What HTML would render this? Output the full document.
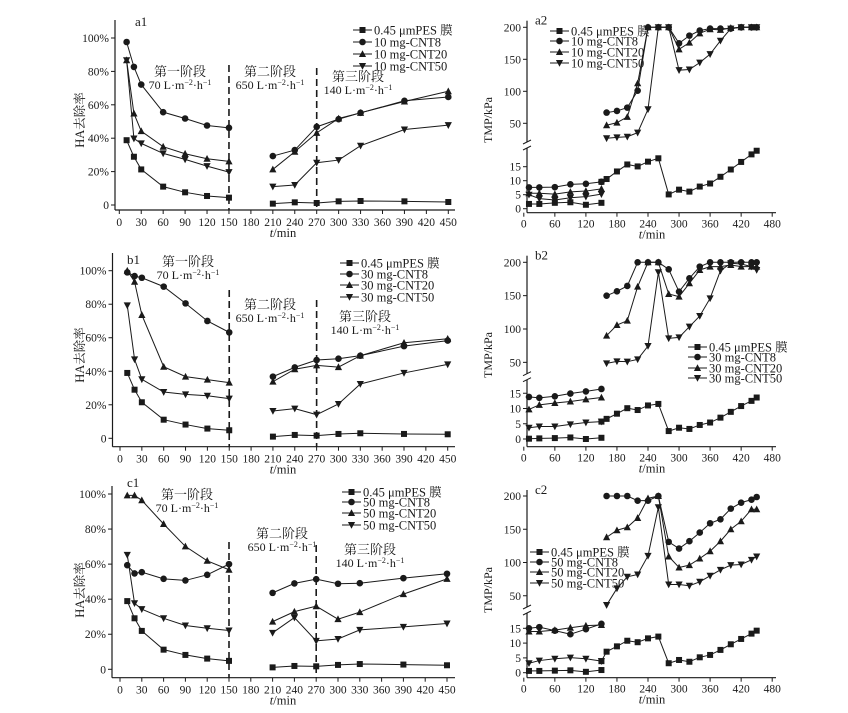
<!DOCTYPE html>
<html><head><meta charset="utf-8">
<style>
html,body{margin:0;padding:0;background:#fff;}
svg{display:block;font-family:"Liberation Serif","Noto Serif CJK SC",serif;}
</style></head>
<body>
<svg id="chart" width="848" height="713" viewBox="0 0 848 713" xmlns="http://www.w3.org/2000/svg"></svg>
<script>
// ---------- data ----------
const tLeft = [10,20,30,60,90,120,150,210,240,270,300,330,390,450];
const a1PES = [38.8,28.9,21.3,11,7.6,5.4,4.4,0.8,1.6,1.2,2.2,2.4,2.2,1.8];
const a1C8 = [97.6,82.7,72.1,55.6,51.8,47.6,46.2,29.3,32.9,46.8,51.4,55.2,62.4,64.7];
const a1C20 = [86.7,54.8,44.2,34.9,30.7,27.7,26.1,21.3,31.9,43.2,51.8,55.2,62,68.1];
const a1C50 = [86.7,39.8,36.9,30.9,27.3,23.3,19.7,11,12,25.3,26.9,35.5,45.2,47.8];
const b1PES = [39,29,21.5,11.1,8.2,5.8,4.8,1,2,1.6,2.6,3,2.6,2.4];
const b1C8 = [99,96.8,95.8,90.5,80.5,70,63.2,36.8,42.3,46.7,47.5,49.3,55,58.3];
const b1C20 = [100,93.4,73.6,42.7,36.8,35,33.2,33.8,41.2,43.5,42.5,49.3,57,59.4];
const b1C50 = [79.3,47.1,35.2,27.6,26.2,25.4,23.7,16.3,17.7,14.1,20.5,32.4,39,44.1];
const c1PES = [38.9,29.1,21.9,11.2,8.2,6.1,4.8,1.1,1.9,1.7,2.5,3,2.7,2.3];
const c1C8 = [59.4,54.7,55.4,51.6,50.7,53.9,60,43.6,49,51.4,48.8,49.1,52,54.5];
const c1C20 = [99.2,99.2,96.4,82.9,70.1,61.9,56.8,27.2,32.9,36,28.6,32.6,42.9,51.6];
const c1C50 = [65.3,37.7,34.3,29.1,25,23.4,22.1,20.8,29.5,16.2,17.3,22.5,24.2,26.1];
const leftTicksX = [0,30,60,90,120,150,180,210,240,270,300,330,360,390,420,450];
const leftTickLabelsY = ["0","20%","40%","60%","80%","100%"];

const tR1 = [10,30,60,90,120,150];
const tR2 = [160,180,200,220,240,260,280,300,320,340,360,380,400,420,440,450];
const tP2 = [150,160,180,200,220,240,260,280,300,320,340,360,380,400,420,440,450];
const a2PESlow = [1.7,1.7,2.1,2.3,1.4,2.1];
const a2C8low = [7.6,7.6,7.7,8.7,8.9,9.6];
const a2C20low = [5.5,5.5,5.2,6,6.3,7.1];
const a2C50low = [5,3.6,3.1,3.9,4.3,5.2];
const a2PES2 = [9.6,10.6,13.3,15.8,15.1,16.8,18,5.1,6.8,6.1,7.9,9,11.4,14,16.7,19.4,20.7];
const a2C8up = [66.7,69.3,74.5,101,200,200,200,175,187,195,198,198,198,200,200,200];
const a2C20up = [47,51,60,112.5,200,200,200,165.6,176,190.6,197,196,199,200,200,200];
const a2C50up = [26.6,28,29,35.4,71.9,200,200,133,134,144.8,158,179,198,200,200,200];
const b2PESlow = [0.1,0.2,0.3,0.5,0,0.4];
const b2C8low = [13.8,13.5,14,14.9,15.6,16.4];
const b2C20low = [9.7,11.2,11.8,12.3,13,13.6];
const b2C50low = [3.7,4.1,4.1,4.8,5.4,5.7];
const b2PES2 = [5.7,6.6,8.3,10.1,9.5,11,11.5,2.6,3.7,3.3,4.6,5.4,7,8.9,10.8,12.5,13.6];
const b2C8up = [150,156.5,164.5,200,200,200,189.5,156,176,193.5,200,200,200,200,200,200];
const b2C20up = [90,106,112.5,163.5,200,200,152.5,148.5,168.5,188.5,193.5,193.5,196,193.5,193.5,193.5];
const b2C50up = [48.5,51.5,51,54.5,74.5,185,86,87.5,103.5,119.5,146,187.5,198.5,197.5,193.5,188.5];
const c2PESlow = [0.6,0.6,0.7,0.8,0.3,0.9];
const c2C8low = [15,15.4,14.2,13,14.7,16.5];
const c2C20low = [13.9,13.9,14.4,15.2,15.9,16.1];
const c2C50low = [3.2,4.1,4.7,5.1,4.7,3.9];
const c2PES2 = [3.9,7.1,8.9,10.8,10.3,11.6,12.2,3.2,4.3,3.7,5.2,6,7.7,9.6,11.4,13.2,14.2];
const c2C8up = [200,200,200,193,193,200,131,121,132,145,159,165,181,190,194.5,198.5];
const c2C20up = [138,148.5,153,167,196.5,200,109,92.5,96,106,117,132,150,162,180,180];
const c2C50up = [36,61,78.5,82,110,183,67,67,65,71,80,89,96,97,104,109];
const rightTicksX = [0,60,120,180,240,300,360,420,480];
const rightTicksUp = [50,100,150,200];
const rightTicksLow = [0,5,10,15];

// ---------- helpers ----------
const NS = "http://www.w3.org/2000/svg";
const svg = document.getElementById("chart");
const INK = "#1a1a1a";
function mk(tag, attrs, parent){
  const e = document.createElementNS(NS, tag);
  for (const k in attrs) e.setAttribute(k, attrs[k]);
  (parent||svg).appendChild(e);
  return e;
}
function txt(x,y,s,size,anchor,parent){
  const t = mk("text",{x:x,y:y,"font-size":size,"text-anchor":anchor||"start",fill:INK},parent);
  t.textContent = s;
  return t;
}
function marker(g,type,x,y){
  const s=3;
  let e;
  if(type==="sq") e=mk("rect",{x:x-s,y:y-s,width:2*s,height:2*s,fill:INK},g);
  else if(type==="ci") e=mk("circle",{cx:x,cy:y,r:s+0.3,fill:INK},g);
  else if(type==="up") e=mk("polygon",{points:`${x},${y-s-0.8} ${x-s-0.6},${y+s} ${x+s+0.6},${y+s}`,fill:INK},g);
  else e=mk("polygon",{points:`${x},${y+s+0.8} ${x-s-0.6},${y-s} ${x+s+0.6},${y-s}`,fill:INK},g);
  
  
}
function series(name,type,ts,vs,fx,fy,noLineGapIdx){
  const g = mk("g",{});
  
  
  let segs=[[]];
  ts.forEach((t,i)=>{ if(noLineGapIdx!==undefined && i===noLineGapIdx) segs.push([]); segs[segs.length-1].push([fx(t),fy(vs[i])]); });
  segs.forEach(sg=>{
    if(sg.length>1){ const p=mk("polyline",{points:sg.map(p=>p.join(",")).join(" "),fill:"none",stroke:INK,"stroke-width":1},g);
        }
  });
  ts.forEach((t,i)=>marker(g,type,fx(t),fy(vs[i])));
}
function legend(x,ys,labels,types,name){
  const g=mk("g",{});
  
  
  labels.forEach((l,i)=>{
    const e=mk("g",{},g);
    
    
    mk("line",{x1:x,y1:ys[i],x2:x+19,y2:ys[i],stroke:INK,"stroke-width":1},e);
    marker(e,types[i],x+9.5,ys[i]);
    txt(x+21,ys[i]+4.5,l,12.5,"start",e);
  });
}
function rateText(cx,y,num,name){
  const t=mk("text",{x:cx,y:y,"font-size":12,"text-anchor":"middle",fill:INK});
  
  
  t.innerHTML=`${num} L·m<tspan dy="-4" font-size="8">−2</tspan><tspan dy="4">·h</tspan><tspan dy="-4" font-size="8">−1</tspan>`;
}
function stageLabel(cx,y,s,name){
  const t=txt(cx,y,s,13,"middle");
  
  
}

// ---------- left panels ----------
function leftPanel(p){
  const fx=t=>p.x0+(t)*(p.x450-p.x0)/450;
  const fy=v=>p.y0-v*(p.y0-p.y100)/100;
  const ax=mk("g",{});
  
  
  mk("line",{x1:p.ax,y1:p.top,x2:p.ax,y2:p.bot,stroke:INK,"stroke-width":1.2},ax);
  mk("line",{x1:p.ax,y1:p.bot,x2:p.right,y2:p.bot,stroke:INK,"stroke-width":1.2},ax);
  leftTickLabelsY.forEach((l,i)=>{
    const y=fy(i*20);
    mk("line",{x1:p.ax-4,y1:y,x2:p.ax,y2:y,stroke:INK},ax);
    txt(p.ax-6,y+4,l,11.5,"end",ax);
  });
  leftTicksX.forEach(t=>{
    const x=fx(t);
    mk("line",{x1:x,y1:p.bot,x2:x,y2:p.bot+4,stroke:INK},ax);
    txt(x,p.bot+16,String(t),11.5,"middle",ax);
  });
  const xl=mk("text",{x:283,y:p.bot+27,"font-size":12.5,"text-anchor":"middle",fill:INK});
   
  xl.innerHTML='<tspan font-style="italic">t</tspan>/min';
  const yl=mk("text",{x:0,y:0,"font-size":12.5,"text-anchor":"middle",fill:INK,transform:`translate(84,${p.ymid}) rotate(-90)`});
   
  yl.textContent="HA去除率";
  [150,270].forEach((t,i)=>{
    const l=mk("line",{x1:fx(t),y1:p.dashTop[i],x2:fx(t),y2:p.bot,stroke:INK,"stroke-width":1.6,"stroke-dasharray":"7,4"});
     
  });
  const pl=txt(p.lab[0],p.lab[1],p.id,13,"start");  
  p.stages.forEach((s,i)=>{
    stageLabel(s[0],s[1],["第一阶段","第二阶段","第三阶段"][i],'stage-title');
    rateText(s[0],s[1]+13,["70","650","140"][i],'stage-flux');
  });
  series('series-pes','sq',tLeft,p.d[0],fx,fy,7);
  series('series-cnt8','ci',tLeft,p.d[1],fx,fy,7);
  series('series-cnt20','up',tLeft,p.d[2],fx,fy,7);
  series('series-cnt50','dn',tLeft,p.d[3],fx,fy,7);
  legend(p.leg[0],p.leg[1],["0.45 μmPES 膜",p.mg+" mg-CNT8",p.mg+" mg-CNT20",p.mg+" mg-CNT50"],["sq","ci","up","dn"],'legend');
}
leftPanel({id:"a1",x0:119.3,x450:448.3,y0:205,y100:38,ax:115,top:20,bot:210,right:455,ymid:120,
  dashTop:[65,68],lab:[135,26],stages:[[180,76],[270,76],[358,81]],leg:[353,[30,42,54,66]],mg:"10",
  d:[a1PES,a1C8,a1C20,a1C50]});
leftPanel({id:"b1",x0:120,x450:447.7,y0:438.3,y100:270.7,ax:112.5,top:253,bot:446.7,right:455,ymid:355,
  dashTop:[290,300],lab:[127,264],stages:[[188,266],[270,309],[365,321]],leg:[340,[263,274,285,297]],mg:"30",
  d:[b1PES,b1C8,b1C20,b1C50]});
leftPanel({id:"c1",x0:120,x450:447,y0:669.3,y100:494,ax:112,top:486,bot:677.7,right:455,ymid:590,
  dashTop:[542,545],lab:[127,487],stages:[[187,499],[282,538],[370,554]],leg:[342,[492,502,513,525]],mg:"50",
  d:[c1PES,c1C8,c1C20,c1C50]});

// ---------- right panels ----------
function rightPanel(p){
  const fx=t=>523.8+t*0.5175;
  const fu=v=>p.y200+(200-v)*p.ku;
  const fl=v=>p.y0-v*p.kl;
  const ax=mk("g",{});
  
  
  mk("line",{x1:527,y1:p.top,x2:527,y2:p.brk-3,stroke:INK,"stroke-width":1.2},ax);
  mk("line",{x1:527,y1:p.brk+3,x2:527,y2:p.bot,stroke:INK,"stroke-width":1.2},ax);
  mk("line",{x1:523,y1:p.brk-1,x2:531,y2:p.brk-5,stroke:INK},ax);
  mk("line",{x1:523,y1:p.brk+5,x2:531,y2:p.brk+1,stroke:INK},ax);
  mk("line",{x1:527,y1:p.bot,x2:776,y2:p.bot,stroke:INK,"stroke-width":1.2},ax);
  rightTicksUp.forEach(v=>{const y=fu(v); mk("line",{x1:523,y1:y,x2:527,y2:y,stroke:INK},ax); txt(521,y+4,String(v),11.5,"end",ax);});
  rightTicksLow.forEach(v=>{const y=fl(v); mk("line",{x1:523,y1:y,x2:527,y2:y,stroke:INK},ax); txt(521,y+4,String(v),11.5,"end",ax);});
  rightTicksX.forEach(t=>{const x=fx(t); mk("line",{x1:x,y1:p.bot,x2:x,y2:p.bot+4,stroke:INK},ax); txt(x,p.bot+15,String(t),11.5,"middle",ax);});
  const xl=mk("text",{x:652,y:p.bot+26,"font-size":12.5,"text-anchor":"middle",fill:INK});
   
  xl.innerHTML='<tspan font-style="italic">t</tspan>/min';
  const yl=mk("text",{x:0,y:0,"font-size":12,"text-anchor":"middle",fill:INK,transform:`translate(492,${p.ymid}) rotate(-90)`});
   
  yl.textContent="TMP/kPa";
  const pl=txt(535,p.top+4,p.id,13,"start");  
  series('series-pes-stage1','sq',tR1,p.d[0],fx,fl);
  series('series-cnt8-stage1','ci',tR1,p.d[1],fx,fl);
  series('series-cnt20-stage1','up',tR1,p.d[2],fx,fl);
  series('series-cnt50-stage1','dn',tR1,p.d[3],fx,fl);
  series('series-pes','sq',tP2,p.d[4],fx,fl);
  series('series-cnt8','ci',tR2,p.d[5],fx,fu);
  series('series-cnt20','up',tR2,p.d[6],fx,fu);
  series('series-cnt50','dn',tR2,p.d[7],fx,fu);
  legend(p.leg[0],p.leg[1],["0.45 μmPES 膜",p.mg+" mg-CNT8",p.mg+" mg-CNT20",p.mg+" mg-CNT50"],["sq","ci","up","dn"],'legend');
}
rightPanel({id:"a2",top:20.7,bot:212.7,brk:145,y200:27.3,ku:0.64,y0:208.7,kl:2.8,ymid:120,leg:[550,[31,41,52,63]],mg:"10",
  d:[a2PESlow,a2C8low,a2C20low,a2C50low,a2PES2,a2C8up,a2C20up,a2C50up]});
rightPanel({id:"b2",top:255.7,bot:446.7,brk:376.7,y200:262.3,ku:0.667,y0:439,kl:3.05,ymid:355,leg:[688,[347,357,368,378]],mg:"30",
  d:[b2PESlow,b2C8low,b2C20low,b2C50low,b2PES2,b2C8up,b2C20up,b2C50up]});
rightPanel({id:"c2",top:490,bot:677.7,brk:610,y200:496,ku:0.665,y0:672.7,kl:2.96,ymid:590,leg:[530,[552,562,572,583]],mg:"50",
  d:[c2PESlow,c2C8low,c2C20low,c2C50low,c2PES2,c2C8up,c2C20up,c2C50up]});
</script>
</body></html>
